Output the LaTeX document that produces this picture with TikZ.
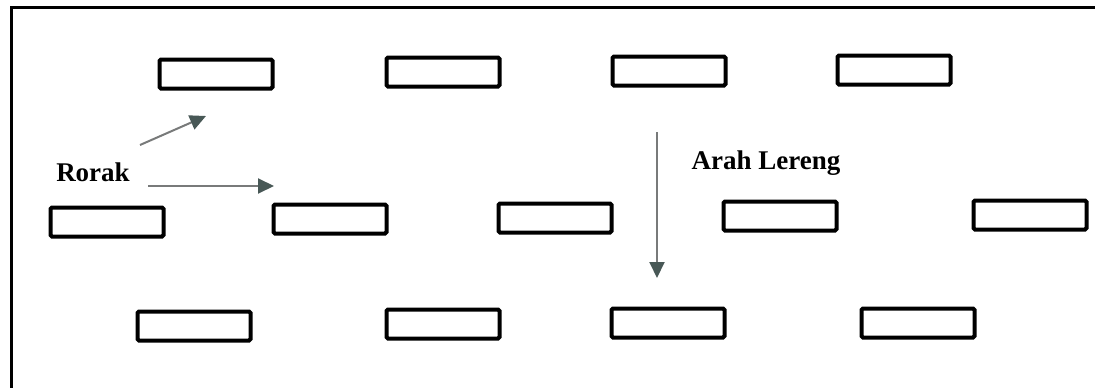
\documentclass[tikz,border=0pt]{standalone}
\usepackage{fontspec}
\setmainfont{Liberation Serif}
\usepackage{tikz}
\usetikzlibrary{arrows.meta}
\definecolor{slopeline}{RGB}{120,122,122}
\definecolor{slopehead}{RGB}{72,88,86}

\begin{document}
\begin{tikzpicture}
    [
      x=1pt, y=-1pt,
      rorak/.style={draw, line width=4pt, rounded corners=1.5pt, inner sep=0pt,
                    minimum width=113pt, minimum height=29pt},
      label/.style={font=\fontsize{27}{32}\selectfont\bfseries, inner sep=2pt},
      slope/.style={draw=slopeline, line width=2pt,
                    -{Triangle[length=16pt,width=15pt,color=slopehead]}}
    ]
    \useasboundingbox (0,0) rectangle (1095,388);
    % frame
    \draw[line width=3pt] (11,398) -- (11,7) -- (1105,7);
    % top row
    \foreach \x/\y/\n in {216/74/a1,443/72/a2,669/71/a3,894/70/a4} {
        \node [rorak] (\n) at (\x,\y) {};
    }
    % middle row
    \foreach \x/\y/\n in {107/222/b1,330/219/b2,555/218/b3,780/216/b4,1030/215/b5} {
        \node [rorak] (\n) at (\x,\y) {};
    }
    % bottom row
    \foreach \x/\y/\n in {194/326/c1,443/324/c2,668/323/c3,918/323/c4} {
        \node [rorak] (\n) at (\x,\y) {};
    }
    % labels
    \node [label, fill=white] (rorak) at (93,172) {Rorak};
    \node [label] (lereng) at (766,163) {Arah Lereng};
    % arrows
    \coordinate (r1s) at (140,145);
    \coordinate (r1e) at (206,116);
    \coordinate (r2s) at (148,186);
    \coordinate (r2e) at (274,186);
    \coordinate (ls) at (657,132);
    \coordinate (le) at (657,278);
    \draw [slope] (r1s) -- (r1e);
    \draw [slope] (r2s) -- (r2e);
    \draw [slope] (ls) -- (le);
\end{tikzpicture}
\end{document}
